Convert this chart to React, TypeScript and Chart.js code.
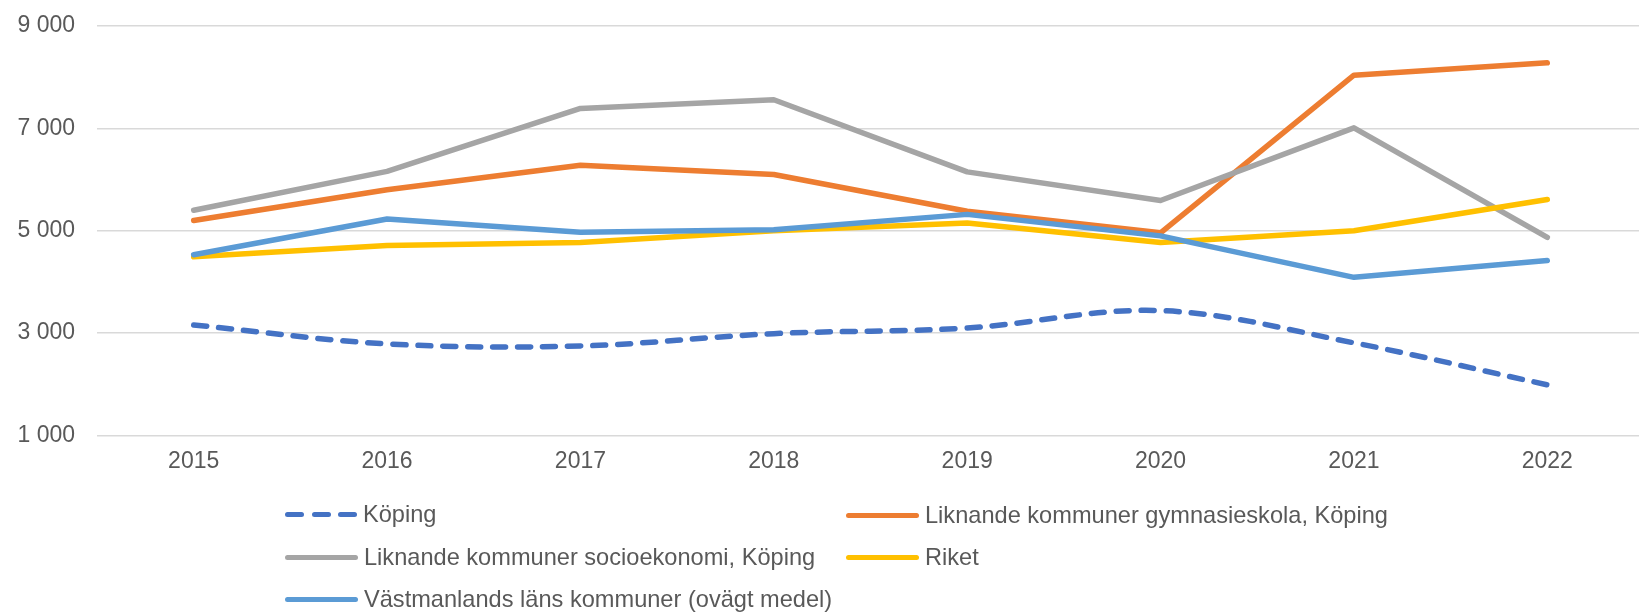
import React, { useEffect, useRef } from "react";
import { Chart, registerables } from "chart.js";

Chart.register(...registerables);

const years = ["2015", "2016", "2017", "2018", "2019", "2020", "2021", "2022"];
const koping = [3160, 2790, 2750, 2990, 3100, 3440, 2810, 1990];
const gymnasie = [5200, 5800, 6280, 6100, 5380, 4960, 8040, 8280];
const socio = [5400, 6160, 7390, 7560, 6150, 5590, 7010, 4870];
const riket = [4490, 4710, 4770, 5000, 5150, 4770, 5000, 5610];
const vastmanland = [4530, 5230, 4970, 5020, 5320, 4900, 4090, 4420];

const yMin = 1000;
const yMax = 9000;
const yStep = 2000;

const labels = {
  koping: "Köping",
  gymnasie: "Liknande kommuner gymnasieskola, Köping",
  socio: "Liknande kommuner socioekonomi, Köping",
  riket: "Riket",
  vast: "Västmanlands läns kommuner (ovägt medel)",
};

const colors = {
  koping: "#4472C4",
  gymnasie: "#ED7D31",
  socio: "#A5A5A5",
  riket: "#FFC000",
  vast: "#5B9BD5",
};

const FONT = "'Liberation Sans', Arial, sans-serif";
const TEXT = "#595959";

function fmt(v: number) {
  const s = Math.round(v).toString();
  return s.replace(/\B(?=(\d{3})+(?!\d))/g, " ");
}

function Swatch({ color, dashed }: { color: string; dashed?: boolean }) {
  if (dashed) {
    return (
      <div style={{ width: 72, height: 5, display: "flex", justifyContent: "space-between" }}>
        {[0, 1, 2].map((i) => (
          <div key={i} style={{ width: 19, height: 5, borderRadius: 2.5, background: color }} />
        ))}
      </div>
    );
  }
  return <div style={{ width: 73, height: 5, borderRadius: 2.5, background: color }} />;
}

function LegendItem({ left, cy, color, text, dashed }: { left: number; cy: number; color: string; text: string; dashed?: boolean }) {
  return (
    <div
      style={{
        position: "absolute",
        left,
        top: cy - 16,
        height: 32,
        display: "flex",
        alignItems: "center",
        whiteSpace: "nowrap",
        fontFamily: FONT,
        fontSize: 23.6,
        color: TEXT,
      }}
    >
      <Swatch color={color} dashed={dashed} />
      <span style={{ marginLeft: 6 }}>{text}</span>
    </div>
  );
}

export default function App() {
  const ref = useRef<HTMLCanvasElement | null>(null);

  useEffect(() => {
    if (!ref.current) return;
    const base = {
      borderWidth: 5.5,
      pointRadius: 0,
      pointHoverRadius: 0,
      fill: false,
      borderCapStyle: "round" as const,
      borderJoinStyle: "round" as const,
    };
    const chart = new Chart(ref.current, {
      type: "line",
      data: {
        labels: years,
        datasets: [
          { ...base, label: labels.koping, data: koping, borderColor: colors.koping, backgroundColor: colors.koping, borderDash: [13, 12], tension: 0.35, order: 5 },
          { ...base, label: labels.gymnasie, data: gymnasie, borderColor: colors.gymnasie, backgroundColor: colors.gymnasie, tension: 0, order: 4 },
          { ...base, label: labels.socio, data: socio, borderColor: colors.socio, backgroundColor: colors.socio, tension: 0, order: 3 },
          { ...base, label: labels.riket, data: riket, borderColor: colors.riket, backgroundColor: colors.riket, tension: 0, order: 2 },
          { ...base, label: labels.vast, data: vastmanland, borderColor: colors.vast, backgroundColor: colors.vast, tension: 0, order: 1 },
        ],
      },
      options: {
        responsive: false,
        animation: false,
        devicePixelRatio: 1,
        layout: { padding: { top: 26, right: 6, left: 0, bottom: 0 } },
        plugins: { legend: { display: false }, tooltip: { enabled: false }, title: { display: false } },
        scales: {
          x: {
            offset: true,
            grid: { display: false, drawTicks: false },
            border: { display: false },
            ticks: { color: TEXT, font: { family: FONT, size: 23 }, padding: 12.5, maxRotation: 0 },
            afterFit: (s: any) => {
              s.height = 177.5;
              s.paddingLeft = 0;
              s.paddingRight = 0;
            },
          },
          y: {
            min: yMin,
            max: yMax,
            grid: { color: "#D9D9D9", lineWidth: 1.6, drawTicks: false },
            border: { display: false },
            ticks: {
              stepSize: yStep,
              color: TEXT,
              font: { family: FONT, size: 23 },
              padding: 22,
              callback: (v: any) => fmt(Number(v)),
            },
            afterFit: (s: any) => {
              s.width = 97;
              s.paddingTop = 0;
              s.paddingBottom = 0;
            },
          },
        },
      },
    });
    return () => chart.destroy();
  }, []);

  return (
    <div style={{ position: "absolute", left: 0, top: 0, width: 1639, height: 613, overflow: "hidden", background: "#fff" }}>
      <canvas ref={ref} width={1650} height={613} style={{ display: "block", width: 1650, height: 613 }} />
      <LegendItem left={285} cy={514} color={colors.koping} text={labels.koping} dashed />
      <LegendItem left={846} cy={515} color={colors.gymnasie} text={labels.gymnasie} />
      <LegendItem left={285} cy={557} color={colors.socio} text={labels.socio} />
      <LegendItem left={846} cy={557} color={colors.riket} text={labels.riket} />
      <LegendItem left={285} cy={599} color={colors.vast} text={labels.vast} />
    </div>
  );
}
